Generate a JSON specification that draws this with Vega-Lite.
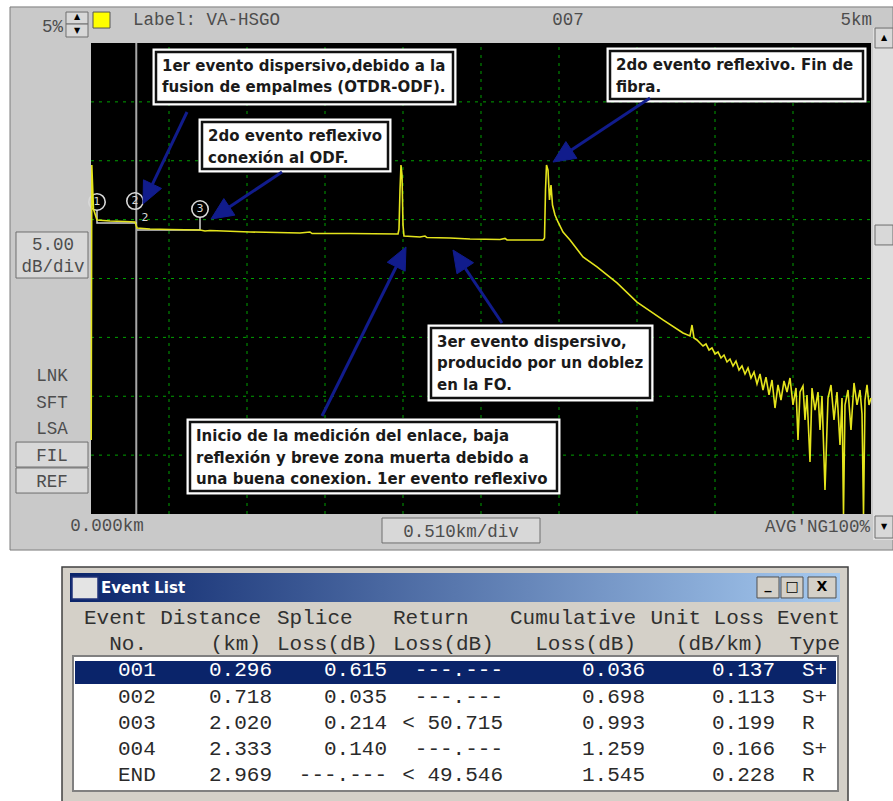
{
"$schema":"https://vega.github.io/schema/vega-lite/v6.json",
"width":893,"height":801,"autosize":{"type":"none"},"padding":0,"background":"#ffffff",
"config":{"view":{"stroke":null},"legend":{"disable":true}},
"datasets":{
"chrome":[
{"k":"win","km":-0.5296,"km2":5.2439,"dB":-3.06,"dB2":43.06},
{"k":"plot","km":0,"km2":5.1,"dB":0,"dB2":40},
{"k":"track","km":5.1131,"km2":5.2439,"dB":-2.21,"dB2":41.27},
{"k":"btn","km":-0.4904,"km2":-0.0196,"dB":20.04,"dB2":23.95},
{"k":"btn","km":-0.4904,"km2":-0.0196,"dB":3.99,"dB2":6.11},
{"k":"btn","km":-0.4904,"km2":-0.0196,"dB":1.78,"dB2":3.91},
{"k":"btn","km":1.9027,"km2":2.9358,"dB":-2.46,"dB2":-0.34},
{"k":"btn","km":-0.1635,"km2":-0.0196,"dB":41.61,"dB2":42.63},
{"k":"btn","km":-0.1635,"km2":-0.0196,"dB":40.51,"dB2":41.61},
{"k":"btn","km":5.1262,"km2":5.2439,"dB":39.58,"dB2":41.27},
{"k":"btn","km":5.1262,"km2":5.2439,"dB":22.85,"dB2":24.54},
{"k":"btn","km":5.1262,"km2":5.2439,"dB":-2.04,"dB2":-0.17},
{"k":"yellow","km":0.0131,"km2":0.1242,"dB":41.27,"dB2":42.63},
{"k":"twin","km":-0.1896,"km2":4.9497,"dB":-24.46,"dB2":-4.5},
{"k":"title","km":-0.1373,"km2":4.8973,"dB":-7.47,"dB2":-5.01},
{"k":"icon","km":-0.1242,"km2":0.0458,"dB":-7.22,"dB2":-5.35},
{"k":"tbtn","km":4.3546,"km2":4.4985,"dB":-7.13,"dB2":-5.35},
{"k":"tbtn","km":4.5115,"km2":4.6554,"dB":-7.13,"dB2":-5.35},
{"k":"tbtn","km":4.6881,"km2":4.8712,"dB":-7.13,"dB2":-5.35},
{"k":"list","km":-0.1177,"km2":4.8842,"dB":-23.52,"dB2":-12.06},
{"k":"sel","km":-0.1046,"km2":4.8711,"dB":-14.44,"dB2":-12.48}
],
"gridx":[{"km":0.51},{"km":1.02},{"km":1.53},{"km":2.04},{"km":2.55},{"km":3.06},{"km":3.57},{"km":4.08},{"km":4.59}],
"gridy":[{"dB":5},{"dB":10},{"dB":15},{"dB":20},{"dB":25},{"dB":30},{"dB":35}],
"trace":[
{"km":0.0013,"dB":6.28},{"km":0.0052,"dB":29.64},{"km":0.0163,"dB":25.9},{"km":0.0392,"dB":24.97},{"km":0.1242,"dB":24.88},{"km":0.2223,"dB":24.84},{"km":0.2877,"dB":24.8},{"km":0.3008,"dB":24.29},{"km":0.3858,"dB":24.2},{"km":0.5165,"dB":24.16},{"km":0.7127,"dB":24.12},{"km":0.7454,"dB":24.03},{"km":0.7781,"dB":24.08},{"km":1.0396,"dB":23.95},{"km":1.3665,"dB":23.86},{"km":1.4319,"dB":23.95},{"km":1.445,"dB":23.82},{"km":1.6935,"dB":23.82},{"km":2.0073,"dB":23.78},{"km":2.0139,"dB":24.2},{"km":2.0204,"dB":27.52},{"km":2.0269,"dB":29.64},{"km":2.0335,"dB":28.79},{"km":2.04,"dB":24.54},{"km":2.0465,"dB":23.61},{"km":2.1512,"dB":23.52},{"km":2.1839,"dB":23.61},{"km":2.1969,"dB":23.48},{"km":2.3473,"dB":23.44},{"km":2.4781,"dB":23.35},{"km":2.6742,"dB":23.31},{"km":2.7069,"dB":23.4},{"km":2.72,"dB":23.27},{"km":2.9554,"dB":23.27},{"km":2.9652,"dB":23.44},{"km":2.9718,"dB":27.52},{"km":2.9783,"dB":29.64},{"km":2.9881,"dB":29.21},{"km":2.9979,"dB":26.67},{"km":3.0077,"dB":27.94},{"km":3.0175,"dB":26.24},{"km":3.0339,"dB":25.39},{"km":3.0535,"dB":24.8},{"km":3.0862,"dB":23.95},{"km":3.132,"dB":23.27},{"km":3.2169,"dB":21.83},{"km":3.3085,"dB":20.98},{"km":3.4392,"dB":19.62},{"km":3.57,"dB":18.0},{"km":3.74,"dB":16.48},{"km":3.8708,"dB":15.37},{"km":3.9165,"dB":15.12},{"km":3.9296,"dB":16.05},{"km":3.9427,"dB":14.95},{"km":3.9623,"dB":14.78},
{"km":3.9819,"dB":14.52},{"km":4.0015,"dB":14.27},{"km":4.0212,"dB":14.44},{"km":4.0408,"dB":13.93},{"km":4.0604,"dB":14.1},{"km":4.08,"dB":13.59},{"km":4.0996,"dB":13.76},{"km":4.1192,"dB":13.25},{"km":4.1388,"dB":13.5},{"km":4.1585,"dB":12.91},{"km":4.1781,"dB":13.16},{"km":4.1977,"dB":12.57},{"km":4.2173,"dB":12.99},{"km":4.2369,"dB":12.23},{"km":4.2565,"dB":12.57},{"km":4.2762,"dB":11.89},{"km":4.2958,"dB":12.4},{"km":4.3154,"dB":11.55},{"km":4.335,"dB":12.06},{"km":4.3546,"dB":11.04},{"km":4.3742,"dB":11.89},{"km":4.3938,"dB":10.53},{"km":4.4135,"dB":11.63},{"km":4.4331,"dB":10.11},{"km":4.4527,"dB":11.38},{"km":4.4723,"dB":9.0},{"km":4.4919,"dB":10.96},{"km":4.5115,"dB":9.68},{"km":4.5312,"dB":11.3},{"km":4.5508,"dB":10.36},{"km":4.5704,"dB":11.55},{"km":4.59,"dB":9.26},{"km":4.6096,"dB":10.7},{"km":4.6227,"dB":6.28},{"km":4.6358,"dB":10.36},{"km":4.6554,"dB":10.87},{"km":4.6685,"dB":7.98},{"km":4.6815,"dB":10.11},{"km":4.7012,"dB":4.42},{"km":4.7142,"dB":10.7},{"km":4.7338,"dB":8.83},{"km":4.7535,"dB":10.36},{"km":4.7665,"dB":7.13},{"km":4.7796,"dB":10.02},{"km":4.7992,"dB":2.04},{"km":4.8188,"dB":9.85},{"km":4.8385,"dB":10.96},{"km":4.8581,"dB":7.98},{"km":4.8777,"dB":10.36},{"km":4.8973,"dB":5.86},{"km":4.9104,"dB":9.85},{"km":4.9202,"dB":0},{"km":4.93,"dB":9.26},{"km":4.9496,"dB":10.53},{"km":4.9692,"dB":7.13},{"km":4.9888,"dB":11.13},{"km":5.0085,"dB":9.26},{"km":5.0281,"dB":10.53},{"km":5.0412,"dB":8.49},{"km":5.051,"dB":0},{"km":5.0608,"dB":9.68},{"km":5.0739,"dB":10.96},{"km":5.0869,"dB":9.26},{"km":5.1,"dB":9.85}
],
"markers":[{"n":"1","km":0.0392,"dB":26.5},{"n":"2","km":0.2877,"dB":26.58},{"n":"3","km":0.7127,"dB":25.9}],
"tags":[{"t":"2","km":0.353,"dB":25.14}],
"links":[{"seg":"a","i":1,"km":0.0392,"dB":25.82},{"seg":"a","i":2,"km":0.0392,"dB":24.71},{"seg":"a","i":3,"km":0.3008,"dB":24.71},{"seg":"b","i":4,"km":0.3008,"dB":24.12},{"seg":"b","i":5,"km":0.7127,"dB":24.12},{"seg":"b","i":6,"km":0.7127,"dB":25.22}],
"boxes":[
{"t":"1er evento dispersivo,debido a la\nfusion de empalmes (OTDR-ODF).","km":0.425,"km2":2.3669,"dB":34.99,"dB2":39.24},
{"t":"2do evento reflexivo\nconexión al ODF.","km":0.7258,"km2":1.9419,"dB":29.3,"dB2":33.29},
{"t":"2do evento reflexivo. Fin de\nfibra.","km":3.3935,"km2":5.0477,"dB":35.24,"dB2":39.32},
{"t":"3er evento dispersivo,\nproducido por un doblez\nen la FO.","km":2.2231,"km2":3.655,"dB":9.85,"dB2":15.8},
{"t":"Inicio de la medición del enlace, baja\nreflexión y breve zona muerta debido a\nuna buena conexion. 1er evento reflexivo","km":0.6473,"km2":3.0469,"dB":1.95,"dB2":7.81}
],
"shafts":[
{"arrow":"a1","i":1,"km":0.6277,"dB":34.14},{"arrow":"a1","i":2,"km":0.402,"dB":28.01},
{"arrow":"a2","i":1,"km":1.2489,"dB":29.04},{"arrow":"a2","i":2,"km":0.9046,"dB":26.08},
{"arrow":"a3","i":1,"km":3.655,"dB":35.33},{"arrow":"a3","i":2,"km":3.1409,"dB":30.92},
{"arrow":"a4","i":1,"km":1.5104,"dB":8.32},{"arrow":"a4","i":2,"km":1.9956,"dB":21.0},
{"arrow":"a5","i":1,"km":2.6873,"dB":16.22},{"arrow":"a5","i":2,"km":2.447,"dB":20.87}
],
"heads":[
{"arrow":"a1","i":1,"km":0.34,"dB":26.33},{"arrow":"a1","i":2,"km":0.343,"dB":28.38},{"arrow":"a1","i":3,"km":0.461,"dB":27.65},{"arrow":"a1","i":4,"km":0.34,"dB":26.33},
{"arrow":"a2","i":1,"km":0.7846,"dB":25.05},{"arrow":"a2","i":2,"km":0.8685,"dB":26.79},{"arrow":"a2","i":3,"km":0.9407,"dB":25.38},{"arrow":"a2","i":4,"km":0.7846,"dB":25.05},
{"arrow":"a3","i":1,"km":3.0208,"dB":29.89},{"arrow":"a3","i":2,"km":3.1049,"dB":31.63},{"arrow":"a3","i":3,"km":3.1769,"dB":30.21},{"arrow":"a3","i":4,"km":3.0208,"dB":29.89},
{"arrow":"a4","i":1,"km":2.0596,"dB":22.68},{"arrow":"a4","i":2,"km":2.0542,"dB":20.62},{"arrow":"a4","i":3,"km":1.937,"dB":21.38},{"arrow":"a4","i":4,"km":2.0596,"dB":22.68},
{"arrow":"a5","i":1,"km":2.3669,"dB":22.42},{"arrow":"a5","i":2,"km":2.5013,"dB":21.34},{"arrow":"a5","i":3,"km":2.3928,"dB":20.4},{"arrow":"a5","i":4,"km":2.3669,"dB":22.42}
],
"labelsL":[{"t":"Label: VA-HSGO","km":0.2746,"dB":41.95}],
"labelsC":[{"t":"007","km":3.1188,"dB":41.95},{"t":"5.00","km":-0.2485,"dB":22.85},{"t":"dB/div","km":-0.2485,"dB":20.98},{"t":"LNK","km":-0.255,"dB":11.72},{"t":"SFT","km":-0.255,"dB":9.43},{"t":"LSA","km":-0.255,"dB":7.22},{"t":"FIL","km":-0.255,"dB":4.93},{"t":"REF","km":-0.255,"dB":2.72},{"t":"0.000km","km":0.1046,"dB":-1.02},{"t":"0.510km/div","km":2.4192,"dB":-1.53}],
"labelsR":[{"t":"5km","km":5.1065,"dB":41.95},{"t":"5%","km":-0.1831,"dB":41.36},{"t":"AVG'NG100%","km":5.0935,"dB":-1.1}],
"glyphs":[{"t":"▲","km":-0.0915,"dB":42.21},{"t":"▼","km":-0.0915,"dB":41.02},{"t":"▲","km":5.185,"dB":40.42},{"t":"▼","km":5.185,"dB":-1.1}],
"ttitle":[{"t":"Event List","km":0.0654,"dB":-6.285}],
"tglyphs":[{"t":"_","km":4.4266,"dB":-6.0},{"t":"□","km":4.5835,"dB":-6.2},{"t":"X","km":4.7797,"dB":-6.2}],
"events":[
{"No":"001","Distance":0.296,"Splice":"0.615","Return":"---.---","Cumulative":0.036,"Unit":0.137,"Type":"S+"},
{"No":"002","Distance":0.718,"Splice":"0.035","Return":"---.---","Cumulative":0.698,"Unit":0.113,"Type":"S+"},
{"No":"003","Distance":2.020,"Splice":"0.214","Return":"< 50.715","Cumulative":0.993,"Unit":0.199,"Type":"R"},
{"No":"004","Distance":2.333,"Splice":"0.140","Return":"---.---","Cumulative":1.259,"Unit":0.166,"Type":"S+"},
{"No":"END","Distance":2.969,"Splice":"---.---","Return":"< 49.546","Cumulative":1.545,"Unit":0.228,"Type":"R"}
],
"headers":[
{"col":"No.","line":"h1","t":"Event"},{"col":"No.","line":"h2","t":"No."},
{"col":"Distance","line":"h1","t":"Distance"},{"col":"Distance","line":"h2","t":"(km)"},
{"col":"Splice","line":"h1","t":"Splice"},{"col":"Splice","line":"h2","t":"Loss(dB)"},
{"col":"Return","line":"h1","t":"Return"},{"col":"Return","line":"h2","t":"Loss(dB)"},
{"col":"Cumulative","line":"h1","t":"Cumulative"},{"col":"Cumulative","line":"h2","t":"Loss(dB)"},
{"col":"Unit","line":"h1","t":"Unit Loss"},{"col":"Unit","line":"h2","t":"(dB/km)"},
{"col":"Type","line":"h1","t":"Event"},{"col":"Type","line":"h2","t":"Type"}
]
},
"layer":[
{"layer":[
{"data":{"name":"chrome"},"transform":[{"filter":"datum.k === 'win'"}],"mark":{"type":"rect","fill":"#c9c9c9","stroke":"#7c7c7c","strokeWidth":1},
 "encoding":{"x":{"field":"km","type":"quantitative","scale":{"domain":[0,5.1],"range":[91,871],"nice":false,"zero":false},"axis":null},"x2":{"field":"km2"},"y":{"field":"dB","type":"quantitative","scale":{"domain":[0,40],"range":[514,43],"nice":false,"zero":false},"axis":null},"y2":{"field":"dB2"}}},
{"data":{"name":"chrome"},"transform":[{"filter":"datum.k === 'plot'"}],"mark":{"type":"rect","fill":"#000000"},
 "encoding":{"x":{"field":"km","type":"quantitative","axis":null},"x2":{"field":"km2"},"y":{"field":"dB","type":"quantitative","axis":null},"y2":{"field":"dB2"}}},
{"data":{"name":"chrome"},"transform":[{"filter":"datum.k === 'track'"}],"mark":{"type":"rect","fill":"#dedede"},
 "encoding":{"x":{"field":"km","type":"quantitative","axis":null},"x2":{"field":"km2"},"y":{"field":"dB","type":"quantitative","axis":null},"y2":{"field":"dB2"}}},
{"data":{"name":"chrome"},"transform":[{"filter":"datum.k === 'btn'"}],"mark":{"type":"rect","fill":"#d8d8d8","stroke":"#6e6e6e","strokeWidth":1},
 "encoding":{"x":{"field":"km","type":"quantitative","axis":null},"x2":{"field":"km2"},"y":{"field":"dB","type":"quantitative","axis":null},"y2":{"field":"dB2"}}},
{"data":{"name":"chrome"},"transform":[{"filter":"datum.k === 'yellow'"}],"mark":{"type":"rect","fill":"#ffff00","stroke":"#555555","strokeWidth":1},
 "encoding":{"x":{"field":"km","type":"quantitative","axis":null},"x2":{"field":"km2"},"y":{"field":"dB","type":"quantitative","axis":null},"y2":{"field":"dB2"}}},
{"data":{"name":"chrome"},"transform":[{"filter":"datum.k === 'twin'"}],"mark":{"type":"rect","fill":"#d4d0c8","stroke":"#404040","strokeWidth":1.5},
 "encoding":{"x":{"field":"km","type":"quantitative","axis":null},"x2":{"field":"km2"},"y":{"field":"dB","type":"quantitative","axis":null},"y2":{"field":"dB2"}}},
{"data":{"name":"chrome"},"transform":[{"filter":"datum.k === 'title'"}],"mark":{"type":"rect","fill":{"x1":0,"y1":0,"x2":1,"y2":0,"gradient":"linear","stops":[{"offset":0,"color":"#0a246a"},{"offset":1,"color":"#a6caf0"}]}},
 "encoding":{"x":{"field":"km","type":"quantitative","axis":null},"x2":{"field":"km2"},"y":{"field":"dB","type":"quantitative","axis":null},"y2":{"field":"dB2"}}},
{"data":{"name":"chrome"},"transform":[{"filter":"datum.k === 'icon'"}],"mark":{"type":"rect","fill":"#e4e4e4","stroke":"#22337a","strokeWidth":1.5},
 "encoding":{"x":{"field":"km","type":"quantitative","axis":null},"x2":{"field":"km2"},"y":{"field":"dB","type":"quantitative","axis":null},"y2":{"field":"dB2"}}},
{"data":{"name":"chrome"},"transform":[{"filter":"datum.k === 'tbtn'"}],"mark":{"type":"rect","fill":"#d4d0c8","stroke":"#505050","strokeWidth":1},
 "encoding":{"x":{"field":"km","type":"quantitative","axis":null},"x2":{"field":"km2"},"y":{"field":"dB","type":"quantitative","axis":null},"y2":{"field":"dB2"}}},
{"data":{"name":"chrome"},"transform":[{"filter":"datum.k === 'list'"}],"mark":{"type":"rect","fill":"#ffffff","stroke":"#808080","strokeWidth":2},
 "encoding":{"x":{"field":"km","type":"quantitative","axis":null},"x2":{"field":"km2"},"y":{"field":"dB","type":"quantitative","axis":null},"y2":{"field":"dB2"}}},
{"data":{"name":"chrome"},"transform":[{"filter":"datum.k === 'sel'"}],"mark":{"type":"rect","fill":"#0a246a"},
 "encoding":{"x":{"field":"km","type":"quantitative","axis":null},"x2":{"field":"km2"},"y":{"field":"dB","type":"quantitative","axis":null},"y2":{"field":"dB2"}}},
{"data":{"name":"gridx"},"mark":{"type":"rule","color":"#00a000","strokeWidth":1,"strokeDash":[3,5]},
 "encoding":{"x":{"field":"km","type":"quantitative","axis":null},"y":{"datum":0,"type":"quantitative","axis":null},"y2":{"datum":40}}},
{"data":{"name":"gridy"},"mark":{"type":"rule","color":"#00a000","strokeWidth":1,"strokeDash":[3,5]},
 "encoding":{"y":{"field":"dB","type":"quantitative","axis":null},"x":{"datum":0,"type":"quantitative","axis":null},"x2":{"datum":5.1}}},
{"data":{"name":"events"},"transform":[{"filter":"datum.No === '001'"}],"mark":{"type":"rule","color":"#a8a8a8","strokeWidth":2},
 "encoding":{"x":{"field":"Distance","type":"quantitative","axis":null},"y":{"datum":0,"type":"quantitative","axis":null},"y2":{"datum":40}}},
{"data":{"name":"links"},"mark":{"type":"line","color":"#d0d0d0","strokeWidth":1.5},
 "encoding":{"x":{"field":"km","type":"quantitative","axis":null},"y":{"field":"dB","type":"quantitative","axis":null},"detail":{"field":"seg"},"order":{"field":"i","type":"quantitative"}}},
{"data":{"name":"markers"},"mark":{"type":"point","shape":"circle","size":270,"filled":false,"color":"#d8d8d8","strokeWidth":1.6,"opacity":1},
 "encoding":{"x":{"field":"km","type":"quantitative","axis":null},"y":{"field":"dB","type":"quantitative","axis":null}}},
{"data":{"name":"markers"},"mark":{"type":"text","font":"DejaVu Sans","fontSize":11,"color":"#d8d8d8","align":"center","baseline":"middle"},
 "encoding":{"x":{"field":"km","type":"quantitative","axis":null},"y":{"field":"dB","type":"quantitative","axis":null},"text":{"field":"n"}}},
{"data":{"name":"tags"},"mark":{"type":"text","font":"DejaVu Sans","fontSize":11,"color":"#d8d8d8","align":"center","baseline":"middle"},
 "encoding":{"x":{"field":"km","type":"quantitative","axis":null},"y":{"field":"dB","type":"quantitative","axis":null},"text":{"field":"t"}}},
{"data":{"name":"trace"},"mark":{"type":"line","color":"#e4e41c","strokeWidth":1.6},
 "encoding":{"x":{"field":"km","type":"quantitative","axis":null},"y":{"field":"dB","type":"quantitative","axis":null}}},
{"data":{"name":"boxes"},"mark":{"type":"rect","fill":"#ffffff","stroke":"#ffffff","strokeWidth":7},
 "encoding":{"x":{"field":"km","type":"quantitative","axis":null},"x2":{"field":"km2"},"y":{"field":"dB","type":"quantitative","axis":null},"y2":{"field":"dB2"}}},
{"data":{"name":"boxes"},"mark":{"type":"rect","fill":"#ffffff","stroke":"#111111","strokeWidth":2.5},
 "encoding":{"x":{"field":"km","type":"quantitative","axis":null},"x2":{"field":"km2"},"y":{"field":"dB","type":"quantitative","axis":null},"y2":{"field":"dB2"}}},
{"data":{"name":"boxes"},"mark":{"type":"text","font":"DejaVu Sans","fontWeight":"bold","fontSize":15,"color":"#1a1a1a","align":"left","baseline":"top","dx":6,"dy":7,"lineBreak":"\n","lineHeight":21.5},
 "encoding":{"x":{"field":"km","type":"quantitative","axis":null},"y":{"field":"dB2","type":"quantitative","axis":null},"text":{"field":"t"}}},
{"data":{"name":"shafts"},"mark":{"type":"line","color":"#111c8c","strokeWidth":3},
 "encoding":{"x":{"field":"km","type":"quantitative","axis":null},"y":{"field":"dB","type":"quantitative","axis":null},"detail":{"field":"arrow"},"order":{"field":"i","type":"quantitative"}}},
{"data":{"name":"heads"},"mark":{"type":"line","color":"#111c8c","fill":"#111c8c","strokeWidth":1,"strokeJoin":"miter"},
 "encoding":{"x":{"field":"km","type":"quantitative","axis":null},"y":{"field":"dB","type":"quantitative","axis":null},"detail":{"field":"arrow"},"order":{"field":"i","type":"quantitative"}}},
{"data":{"name":"labelsL"},"mark":{"type":"text","font":"Liberation Mono","fontSize":17.5,"color":"#4d4d4d","align":"left","baseline":"middle"},
 "encoding":{"x":{"field":"km","type":"quantitative","axis":null},"y":{"field":"dB","type":"quantitative","axis":null},"text":{"field":"t"}}},
{"data":{"name":"labelsC"},"mark":{"type":"text","font":"Liberation Mono","fontSize":17.5,"color":"#4d4d4d","align":"center","baseline":"middle"},
 "encoding":{"x":{"field":"km","type":"quantitative","axis":null},"y":{"field":"dB","type":"quantitative","axis":null},"text":{"field":"t"}}},
{"data":{"name":"labelsR"},"mark":{"type":"text","font":"Liberation Mono","fontSize":17.5,"color":"#4d4d4d","align":"right","baseline":"middle"},
 "encoding":{"x":{"field":"km","type":"quantitative","axis":null},"y":{"field":"dB","type":"quantitative","axis":null},"text":{"field":"t"}}},
{"data":{"name":"glyphs"},"mark":{"type":"text","font":"DejaVu Sans","fontSize":8,"color":"#000000","align":"center","baseline":"middle"},
 "encoding":{"x":{"field":"km","type":"quantitative","axis":null},"y":{"field":"dB","type":"quantitative","axis":null},"text":{"field":"t"}}},
{"data":{"name":"ttitle"},"mark":{"type":"text","font":"DejaVu Sans","fontWeight":"bold","fontSize":15,"color":"#ffffff","align":"left","baseline":"middle"},
 "encoding":{"x":{"field":"km","type":"quantitative","axis":null},"y":{"field":"dB","type":"quantitative","axis":null},"text":{"field":"t"}}},
{"data":{"name":"tglyphs"},"mark":{"type":"text","font":"DejaVu Sans","fontWeight":"bold","fontSize":14,"color":"#000000","align":"center","baseline":"middle"},
 "encoding":{"x":{"field":"km","type":"quantitative","axis":null},"y":{"field":"dB","type":"quantitative","axis":null},"text":{"field":"t"}}}
]},
{"layer":[
{"data":{"name":"headers"},"transform":[{"filter":"datum.col === 'No.'"}],"mark":{"type":"text","font":"Liberation Mono","fontSize":21,"color":"#303030","align":"right","baseline":"middle","dx":27},
 "encoding":{"x":{"field":"col","type":"nominal","scale":{"type":"point","domain":["No.","Distance","Splice","Return","Cumulative","Unit","Type"],"range":[120,840],"padding":0},"axis":null},"y":{"field":"line","type":"nominal","scale":{"type":"point","domain":["h1","h2","001","002","003","004","END"],"range":[618,775],"padding":0},"axis":null},"text":{"field":"t"}}},
{"data":{"name":"headers"},"transform":[{"filter":"datum.col === 'Distance'"}],"mark":{"type":"text","font":"Liberation Mono","fontSize":21,"color":"#303030","align":"right","baseline":"middle","dx":21},
 "encoding":{"x":{"field":"col","type":"nominal","axis":null},"y":{"field":"line","type":"nominal","axis":null},"text":{"field":"t"}}},
{"data":{"name":"headers"},"transform":[{"filter":"datum.col === 'Splice'"}],"mark":{"type":"text","font":"Liberation Mono","fontSize":21,"color":"#303030","align":"left","baseline":"middle","dx":-83},
 "encoding":{"x":{"field":"col","type":"nominal","axis":null},"y":{"field":"line","type":"nominal","axis":null},"text":{"field":"t"}}},
{"data":{"name":"headers"},"transform":[{"filter":"datum.col === 'Return'"}],"mark":{"type":"text","font":"Liberation Mono","fontSize":21,"color":"#303030","align":"left","baseline":"middle","dx":-87},
 "encoding":{"x":{"field":"col","type":"nominal","axis":null},"y":{"field":"line","type":"nominal","axis":null},"text":{"field":"t"}}},
{"data":{"name":"headers"},"transform":[{"filter":"datum.col === 'Cumulative'"}],"mark":{"type":"text","font":"Liberation Mono","fontSize":21,"color":"#303030","align":"right","baseline":"middle","dx":36},
 "encoding":{"x":{"field":"col","type":"nominal","axis":null},"y":{"field":"line","type":"nominal","axis":null},"text":{"field":"t"}}},
{"data":{"name":"headers"},"transform":[{"filter":"datum.col === 'Unit'"}],"mark":{"type":"text","font":"Liberation Mono","fontSize":21,"color":"#303030","align":"right","baseline":"middle","dx":44},
 "encoding":{"x":{"field":"col","type":"nominal","axis":null},"y":{"field":"line","type":"nominal","axis":null},"text":{"field":"t"}}},
{"data":{"name":"headers"},"transform":[{"filter":"datum.col === 'Type'"}],"mark":{"type":"text","font":"Liberation Mono","fontSize":21,"color":"#303030","align":"right","baseline":"middle","dx":0},
 "encoding":{"x":{"field":"col","type":"nominal","axis":null},"y":{"field":"line","type":"nominal","axis":null},"text":{"field":"t"}}},
{"data":{"name":"events"},"mark":{"type":"text","font":"Liberation Mono","fontSize":21,"align":"left","baseline":"middle","dx":-2},
 "encoding":{"x":{"datum":"No.","type":"nominal","axis":null},"y":{"field":"No","type":"nominal","axis":null},"text":{"field":"No"},"color":{"condition":{"test":"datum.No === '001'","value":"#ffffff"},"value":"#2a2a2a"}}},
{"data":{"name":"events"},"mark":{"type":"text","font":"Liberation Mono","fontSize":21,"align":"right","baseline":"middle","dx":32},
 "encoding":{"x":{"datum":"Distance","type":"nominal","axis":null},"y":{"field":"No","type":"nominal","axis":null},"text":{"field":"Distance","type":"quantitative","format":".3f"},"color":{"condition":{"test":"datum.No === '001'","value":"#ffffff"},"value":"#2a2a2a"}}},
{"data":{"name":"events"},"mark":{"type":"text","font":"Liberation Mono","fontSize":21,"align":"right","baseline":"middle","dx":27},
 "encoding":{"x":{"datum":"Splice","type":"nominal","axis":null},"y":{"field":"No","type":"nominal","axis":null},"text":{"field":"Splice"},"color":{"condition":{"test":"datum.No === '001'","value":"#ffffff"},"value":"#2a2a2a"}}},
{"data":{"name":"events"},"mark":{"type":"text","font":"Liberation Mono","fontSize":21,"align":"right","baseline":"middle","dx":23},
 "encoding":{"x":{"datum":"Return","type":"nominal","axis":null},"y":{"field":"No","type":"nominal","axis":null},"text":{"field":"Return"},"color":{"condition":{"test":"datum.No === '001'","value":"#ffffff"},"value":"#2a2a2a"}}},
{"data":{"name":"events"},"mark":{"type":"text","font":"Liberation Mono","fontSize":21,"align":"right","baseline":"middle","dx":45},
 "encoding":{"x":{"datum":"Cumulative","type":"nominal","axis":null},"y":{"field":"No","type":"nominal","axis":null},"text":{"field":"Cumulative","type":"quantitative","format":".3f"},"color":{"condition":{"test":"datum.No === '001'","value":"#ffffff"},"value":"#2a2a2a"}}},
{"data":{"name":"events"},"mark":{"type":"text","font":"Liberation Mono","fontSize":21,"align":"right","baseline":"middle","dx":55},
 "encoding":{"x":{"datum":"Unit","type":"nominal","axis":null},"y":{"field":"No","type":"nominal","axis":null},"text":{"field":"Unit","type":"quantitative","format":".3f"},"color":{"condition":{"test":"datum.No === '001'","value":"#ffffff"},"value":"#2a2a2a"}}},
{"data":{"name":"events"},"mark":{"type":"text","font":"Liberation Mono","fontSize":21,"align":"left","baseline":"middle","dx":-38},
 "encoding":{"x":{"datum":"Type","type":"nominal","axis":null},"y":{"field":"No","type":"nominal","axis":null},"text":{"field":"Type"},"color":{"condition":{"test":"datum.No === '001'","value":"#ffffff"},"value":"#2a2a2a"}}}
]}
],
"resolve":{"scale":{"x":"independent","y":"independent"}}
}
